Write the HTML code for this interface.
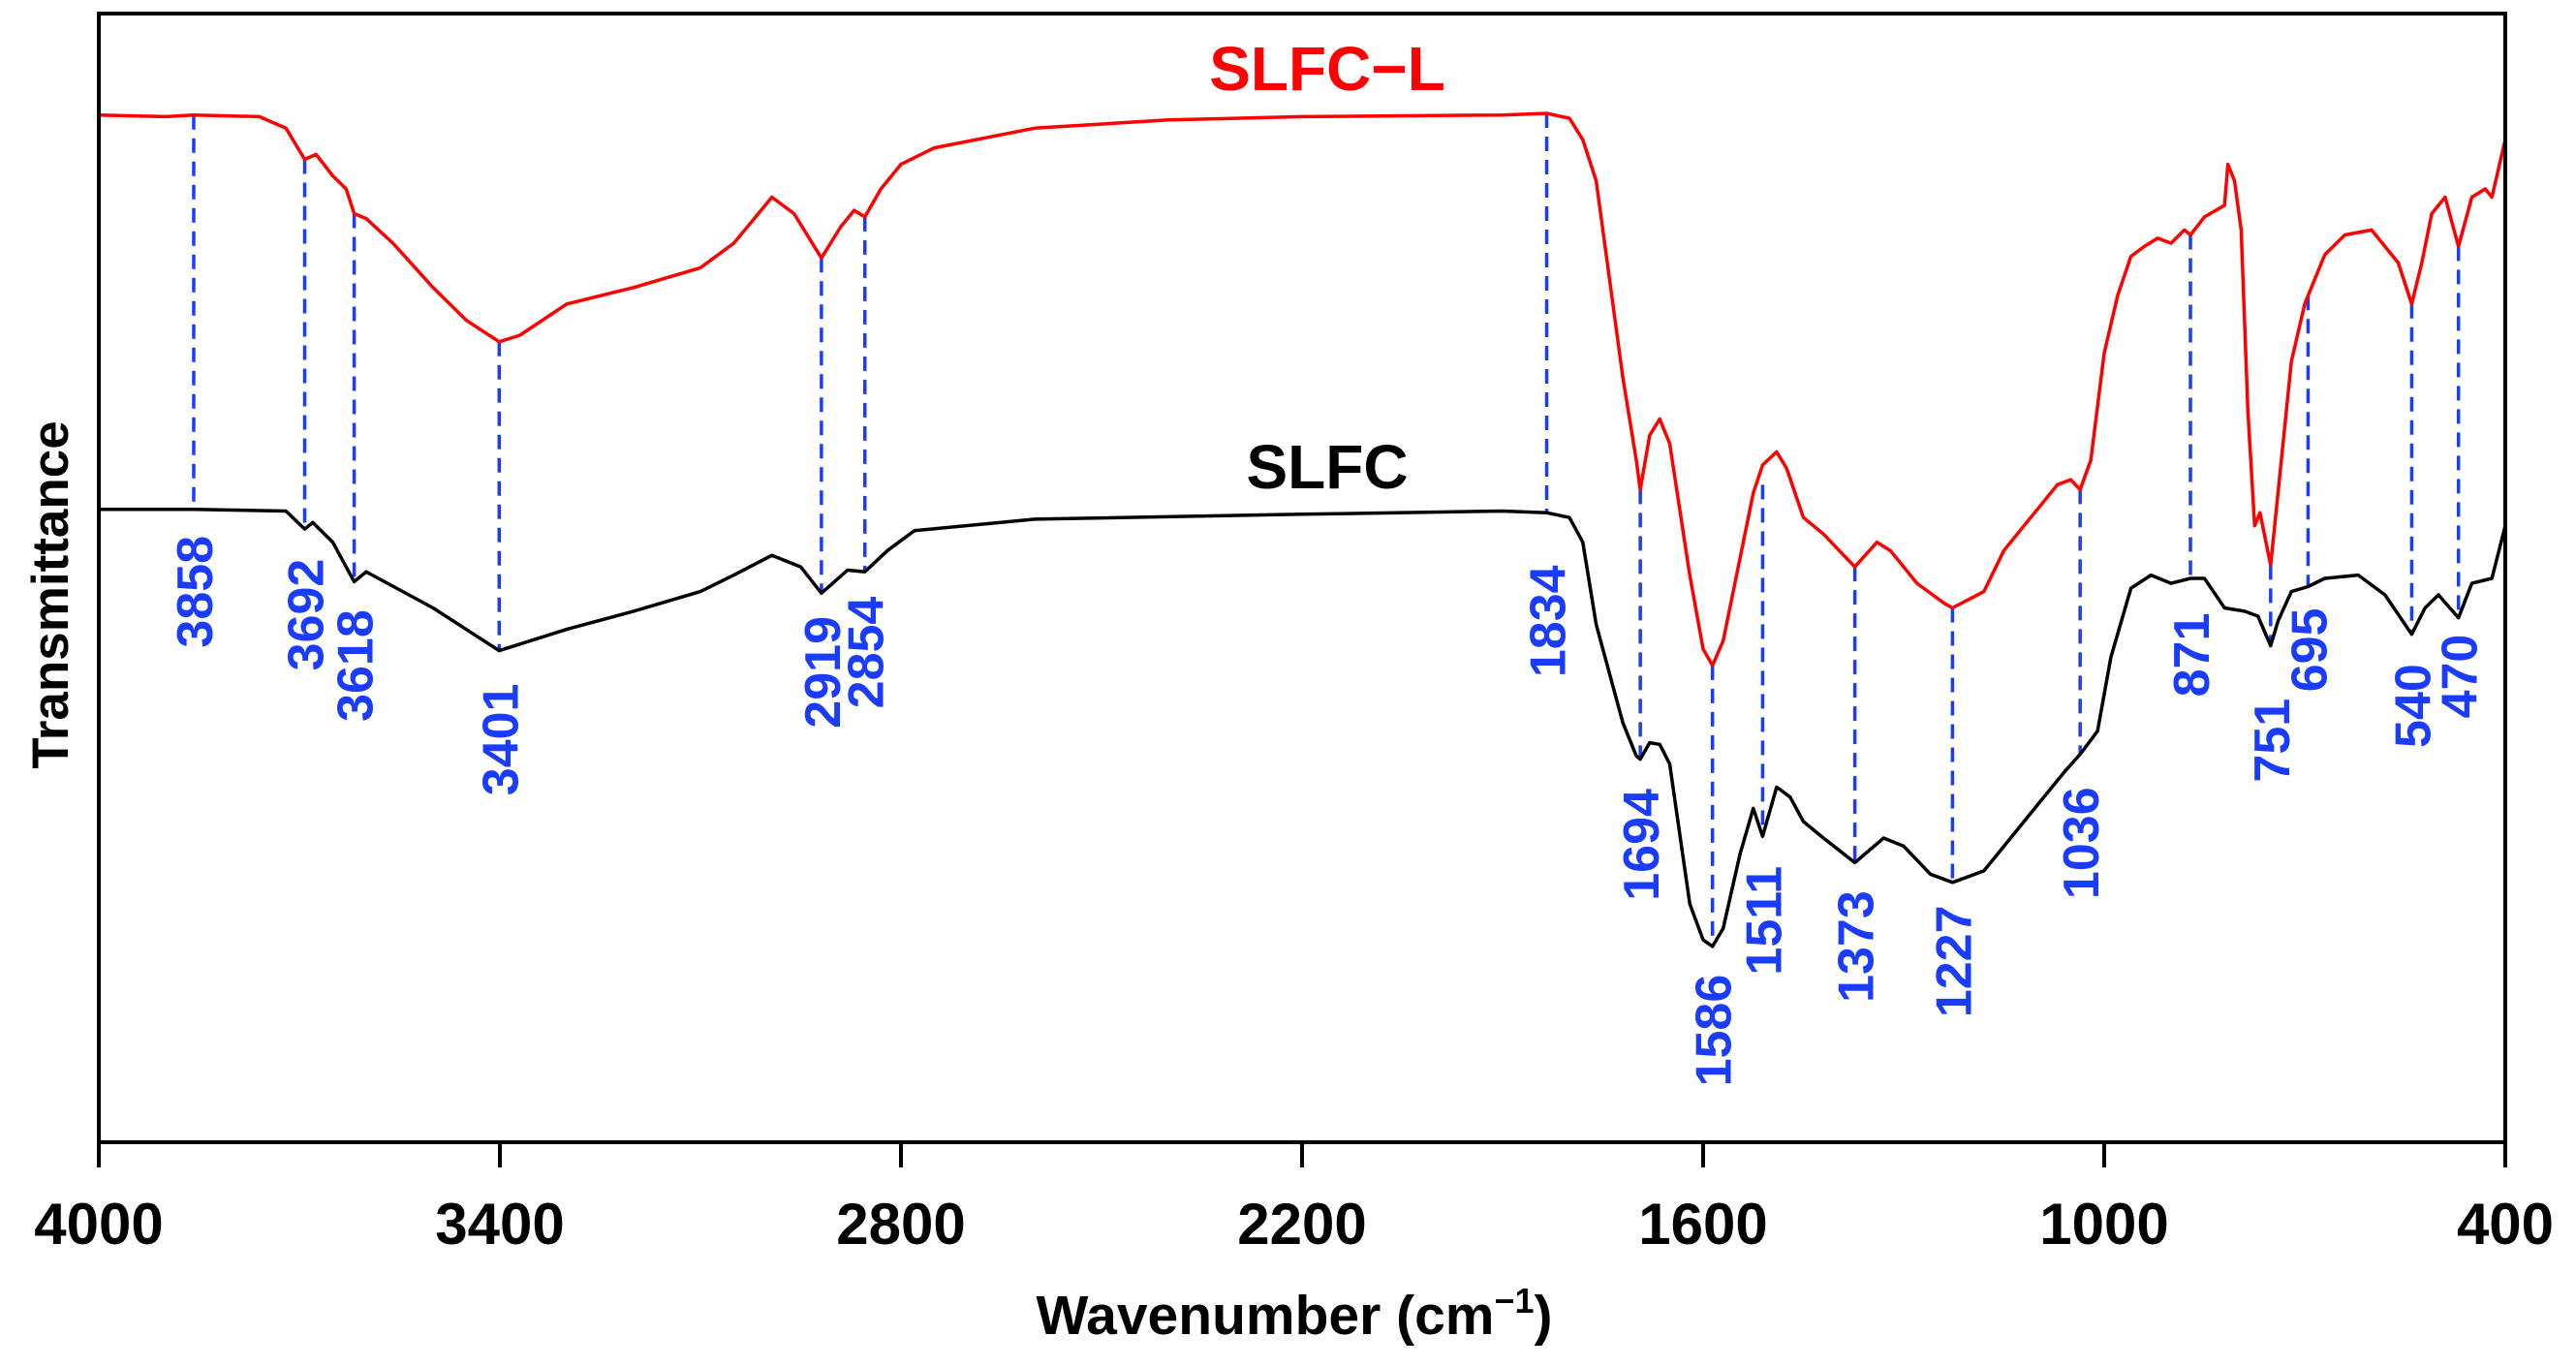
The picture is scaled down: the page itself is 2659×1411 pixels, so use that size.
<!DOCTYPE html>
<html><head><meta charset="utf-8"><style>
html,body{margin:0;padding:0;background:#fff;}
svg{display:block;font-family:"Liberation Sans",Arial,sans-serif;font-weight:bold;}
</style></head><body>
<svg id="chart" width="2659" height="1411" viewBox="0 0 2659 1411" xmlns="http://www.w3.org/2000/svg">
<g id="plot"></g>
</svg>
<script>
// Data (display-scale transmittance positions)
const redWn = [4000,3900,3858,3760,3720,3692,3675,3650,3630,3618,3600,3560,3500,3450,3401,3370,3300,3200,3100,3050,2993,2960,2919,2890,2870,2854,2830,2800,2750,2600,2400,2200,1900,1834,1800,1780,1760,1740,1720,1700,1694,1680,1665,1650,1620,1600,1586,1570,1545,1525,1511,1490,1475,1450,1420,1373,1340,1320,1280,1240,1227,1180,1150,1120,1090,1070,1050,1036,1020,1000,980,960,940,920,900,880,871,850,820,815,805,795,785,775,767,751,740,720,700,695,670,640,600,560,540,525,510,490,470,450,430,420,400];
const redY = [70,71,70,71,78,97,94,107,115,130,133,148,175,195,208,204,185,175,163,148,120,130,157,138,128,132,115,100,90,78,73,71,70,69,72,85,110,170,230,280,298,265,255,270,350,395,405,390,340,300,283,275,285,315,325,345,330,335,355,367,370,360,335,320,305,295,292,298,280,215,180,156,150,145,148,140,143,132,125,100,110,140,250,320,312,344,300,220,185,180,155,143,140,160,185,160,130,120,150,120,115,120,85];
const blackWn = [4000,3858,3720,3692,3680,3650,3618,3600,3500,3401,3300,3200,3100,3050,2993,2950,2919,2880,2854,2820,2780,2600,2200,1900,1834,1800,1780,1760,1720,1700,1694,1680,1665,1650,1620,1600,1586,1570,1545,1525,1511,1490,1470,1450,1420,1373,1330,1300,1260,1227,1180,1140,1100,1060,1036,1010,990,960,930,900,871,850,820,790,770,751,740,720,695,670,620,580,550,540,520,500,470,450,420,400];
const blackY = [310,310,311,322,318,330,354,348,370,396,383,372,360,350,338,345,361,347,348,335,323,316,313,311,312,315,330,380,440,460,462,452,453,465,550,572,576,565,520,492,509,479,485,500,510,525,510,515,532,537,530,510,490,470,459,445,400,358,350,355,352,352,370,372,375,393,378,360,357,352,350,362,380,386,370,362,376,355,352,320];
const peakWn = [3858,3692,3618,3401,2919,2854,1834,1694,1586,1511,1373,1227,1036,871,751,695,540,470];
const peakTop = [70,97,130,208,157,132,69,298,405,295,345,370,298,143,344,180,185,150];
const peakBot = [310,322,354,396,361,348,312,462,576,509,525,537,459,352,393,357,386,376];
const peakLabelTop = [326,340,371,416,375,363,344,480,593,527,542,551,479,373,425,370,404,386];
const xTicks = [4000,3400,2800,2200,1600,1000,400];

const L=102,R=2586,T=14,B=1179,S=1.696;
const X = w => L + (4000-w)/3600*(R-L);
const Y = d => d*S;
const NS="http://www.w3.org/2000/svg";
const g=document.getElementById('plot');
function mk(tag,attrs){const e=document.createElementNS(NS,tag);for(const k in attrs)e.setAttribute(k,attrs[k]);g.appendChild(e);return e;}

peakWn.forEach((w,i)=>{
  const l=mk('line',{x1:X(w),x2:X(w),y1:Y(peakTop[i]),y2:Y(peakBot[i]),stroke:'#1a3cff','stroke-width':3.5,'stroke-dasharray':'15,9'});
  
  
});
function pts(ws,ys){return ws.map((w,i)=>X(w).toFixed(1)+','+Y(ys[i]).toFixed(1)).join(' ');}
const pr=mk('polyline',{points:pts(redWn,redY),fill:'none',stroke:'#ff0000','stroke-width':3.5,'stroke-linejoin':'round'});


const pb=mk('polyline',{points:pts(blackWn,blackY),fill:'none',stroke:'#000','stroke-width':3.5,'stroke-linejoin':'round'});


peakWn.forEach((w,i)=>{
  const t=mk('text',{transform:`translate(${X(w)+19},${Y(peakLabelTop[i])}) rotate(-90)`,'text-anchor':'end','font-size':52,fill:'#1a3cff'});
  t.textContent=String(w);
  
  
});
const fr=mk('rect',{x:L,y:T,width:R-L,height:B-T,fill:'none',stroke:'#000','stroke-width':4});


xTicks.forEach(w=>{
  const tk=mk('line',{x1:X(w),x2:X(w),y1:B,y2:B+26,stroke:'#000','stroke-width':4});
  
  
  const tl=mk('text',{x:X(w),y:1284,'text-anchor':'middle','font-size':60,fill:'#000'});
  tl.textContent=String(w);
  
  
});
const xt=mk('text',{x:1336,y:1377,'text-anchor':'middle','font-size':57,fill:'#000'});
xt.innerHTML='Wavenumber (cm<tspan dy="-22" font-size="36">−1</tspan><tspan dy="22">)</tspan>';


const yt=mk('text',{transform:'translate(70,614) rotate(-90)','text-anchor':'middle','font-size':53,fill:'#000'});
yt.textContent='Transmittance';


const lr=mk('text',{x:1370,y:93,'text-anchor':'middle','font-size':64,fill:'#ff0000'});
lr.textContent='SLFC−L';


const lb=mk('text',{x:1370,y:504,'text-anchor':'middle','font-size':64,fill:'#000'});
lb.textContent='SLFC';


</script>
</body></html>
